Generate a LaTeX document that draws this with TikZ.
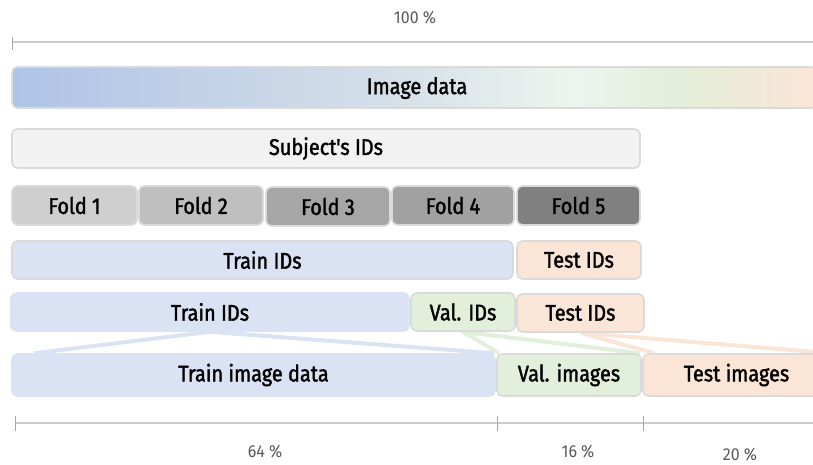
\documentclass[tikz,border=0pt]{standalone}
\usepackage{fontspec}
\setmainfont{Fira Sans}[FakeStretch=0.92]
\newfontfamily\boxfont{Fira Sans}[FakeStretch=0.88, FakeBold=1.6]
\usepackage{tikz}
\usetikzlibrary{backgrounds}
\newlength{\px}
\setlength{\px}{0.75pt}
\definecolor{imgblue}{HTML}{AFC3E6}
\definecolor{imgmid}{HTML}{D5E0E8}
\definecolor{imglight}{HTML}{EEF4EE}
\definecolor{imggreen}{HTML}{E2EFDA}
\definecolor{trainfill}{HTML}{DAE3F3}
\definecolor{valfill}{HTML}{E2EFDA}
\definecolor{testfill}{HTML}{FBE5D6}
\definecolor{subjfill}{HTML}{F2F2F2}
\definecolor{boxline}{HTML}{DADADA}
\definecolor{scalegray}{HTML}{595959}
\pgfdeclarehorizontalshading{imgshade}{100bp}{color(0bp)=(imgblue); color(25bp)=(imgblue); color(49bp)=(imgmid); color(60bp)=(imglight); color(66bp)=(imggreen); color(75bp)=(testfill); color(100bp)=(testfill)}
\tikzset{box/.style={draw=boxline, line width=1.2pt, rounded corners=4pt, inner sep=0pt, minimum height=38\px, font=\boxfont\fontsize{17}{20}\selectfont, text=black},
  split/.style={line width=3pt},
  pct/.style={font=\fontsize{13}{15}\selectfont, text=scalegray},
  scaleline/.style={draw=black!20, line width=0.9pt}}

\begin{document}
\begin{tikzpicture}[x=0.75pt,y=-0.75pt]
\useasboundingbox (0,0) rectangle (813,464);
\clip (0,0) rectangle (813,464);
\node[pct] (all) at (415,18) {100 \%};
\draw[scaleline] (12,42)--(813,42);
\draw[black!35] (12,37)--(12,50);
\node[box, shading=imgshade, minimum width=805\px, minimum height=41\px] (img) at (414.5,87.5) {};
\node[font=\boxfont\fontsize{17}{20}\selectfont] at (417,88) {Image data};
\node[box, fill=subjfill, minimum width=628\px, minimum height=39\px] (subj) at (326,148.5) {Subject's IDs};
\node[box, fill=black!19, minimum width=125\px, minimum height=39\px] (f1) at (74.5,205.5) {Fold 1};
\node[box, fill=black!25, minimum width=124\px, minimum height=39\px] (f2) at (201,205.5) {Fold 2};
\node[box, fill=black!35, minimum width=124\px, minimum height=39\px] (f3) at (328,206.5) {Fold 3};
\node[box, fill=black!37, minimum width=122\px, minimum height=39\px] (f4) at (453,205.5) {Fold 4};
\node[box, fill=black!50, minimum width=123\px, minimum height=39\px] (f5) at (578.5,205.5) {Fold 5};
\node[box, fill=trainfill, minimum width=501\px] (trainA) at (262.5,260) {Train IDs};
\node[box, fill=testfill, minimum width=124\px] (testA) at (579,260) {Test IDs};
\node[box, fill=trainfill, draw=trainfill, minimum width=398\px] (trainB) at (210,312) {Train IDs};
\node[box, fill=valfill, minimum width=104\px] (valB) at (463,312) {Val. IDs};
\node[box, fill=testfill, minimum width=127\px] (testB) at (580.5,313) {Test IDs};
\node[box, fill=trainfill, draw=trainfill, minimum width=483\px, minimum height=42\px] (trainC) at (253.5,375) {Train image data};
\node[box, fill=valfill, minimum width=144\px, minimum height=42\px] (valC) at (569,375) {Val. images};
\node[box, fill=testfill, minimum width=187\px, minimum height=42\px] (testC) at (736.5,375) {Test images};
\begin{scope}[on background layer]
\draw[split, trainfill] ([xshift=23\px]trainC.north west)--(trainB.south)--([xshift=-2\px]trainC.north east);
\draw[split, valfill] ([xshift=3\px]valC.north west)--(valB.south)--([xshift=-2\px]valC.north east);
\draw[split, testfill] ([xshift=12\px]testC.north west)--(testB.south)--(testC.north east);
\end{scope}
\draw[scaleline] (15,423)--(813,423);
\draw[black!35] (15,416)--(15,431);
\draw[black!35] (497,416)--(497,431);
\draw[black!35] (643,416)--(643,431);
\node[pct] (train) at (265,452) {64 \%};
\node[pct] (val) at (578,452) {16 \%};
\node[pct] (test) at (740,455) {20 \%};
\end{tikzpicture}
\end{document}
